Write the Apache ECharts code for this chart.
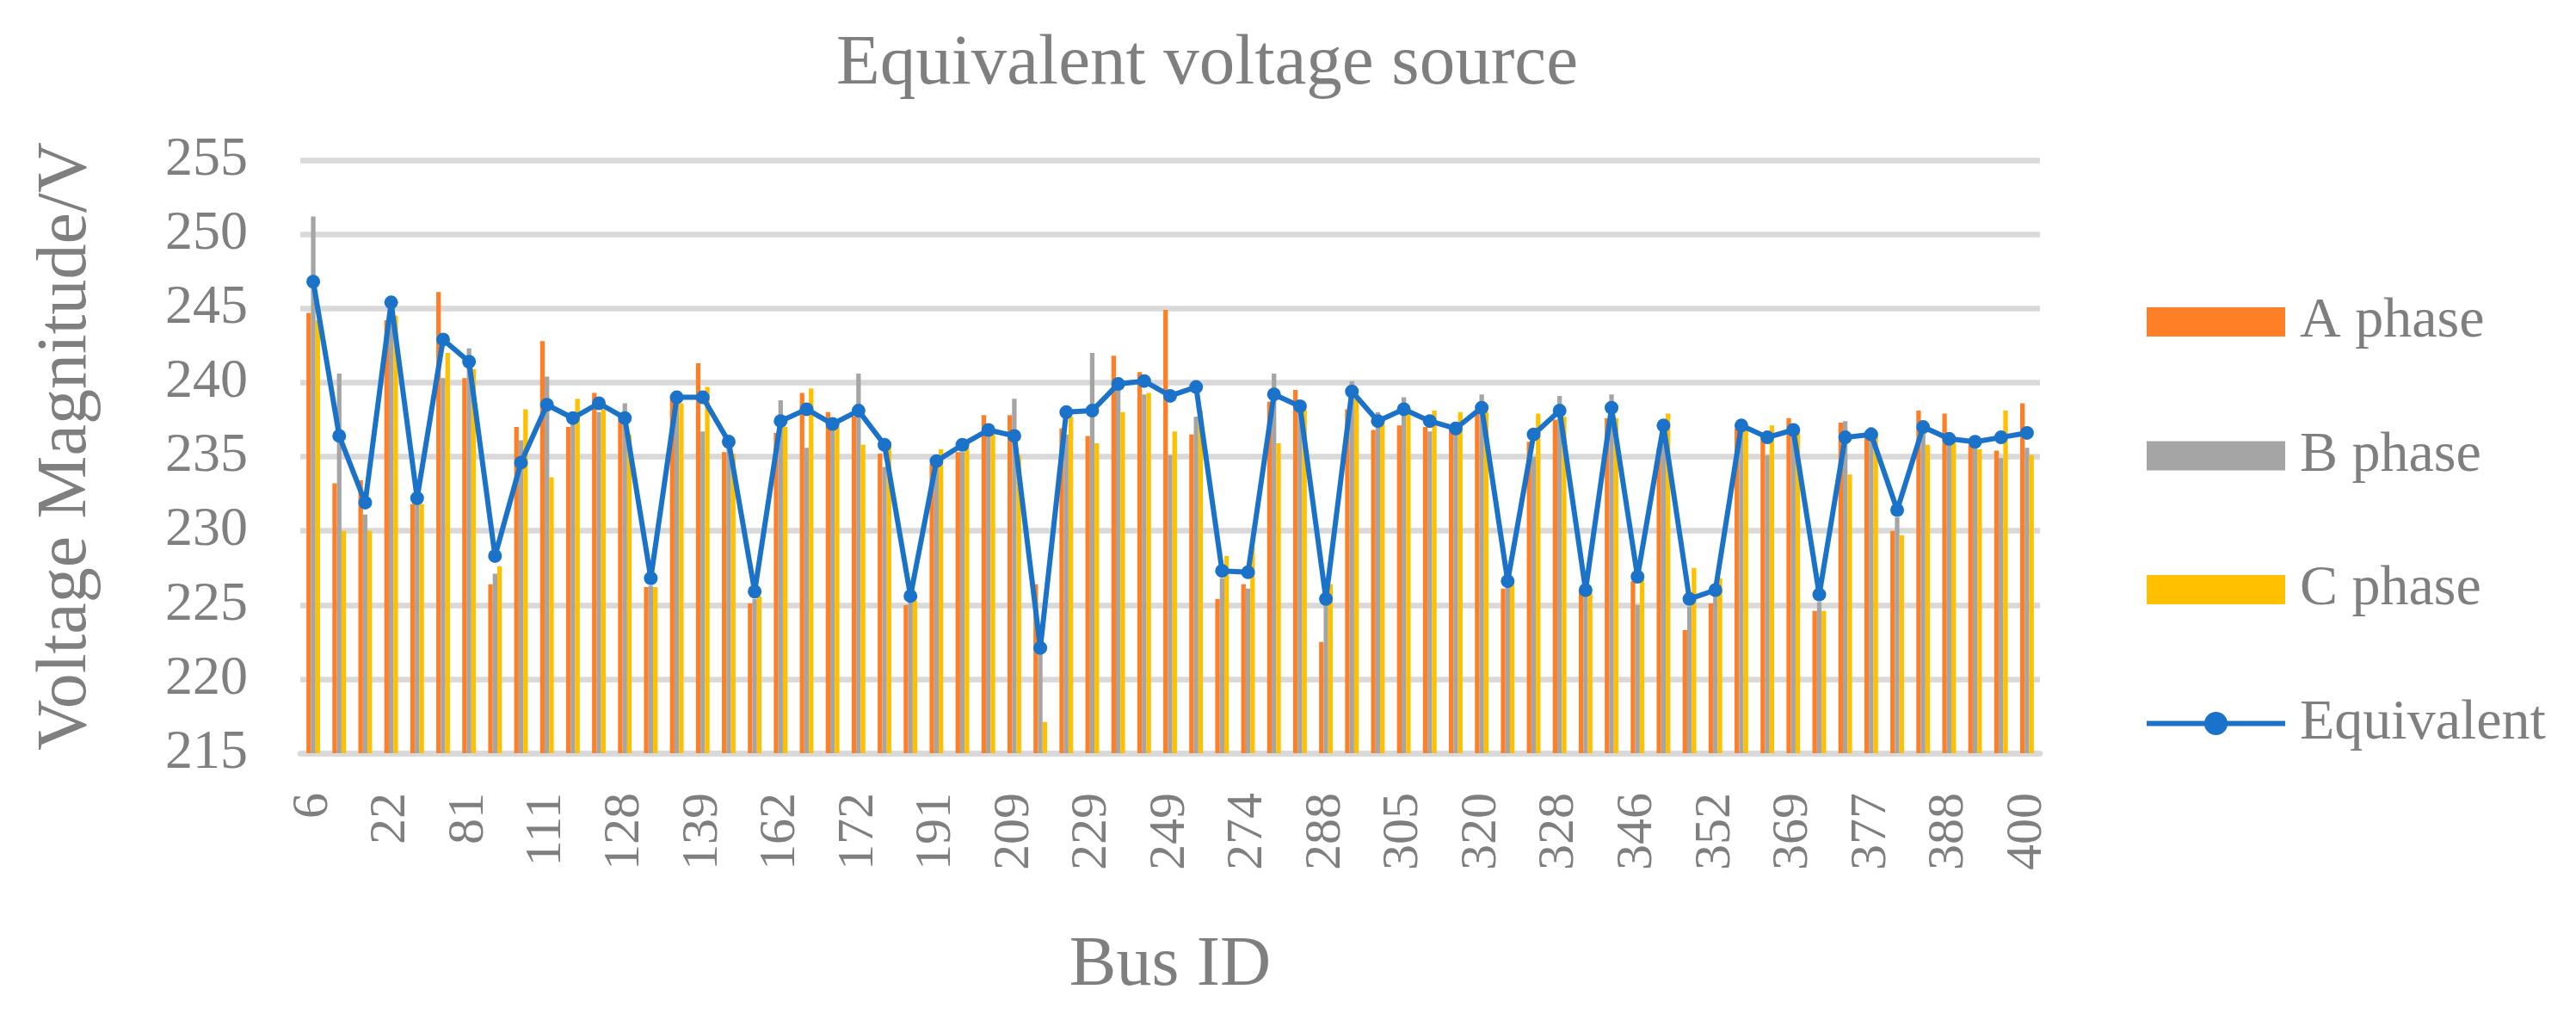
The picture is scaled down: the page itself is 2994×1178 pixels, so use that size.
<!DOCTYPE html>
<html>
<head>
<meta charset="utf-8">
<script src="https://cdn.jsdelivr.net/npm/echarts@6.0.0/dist/echarts.min.js"></script>
<style>
html,body{margin:0;padding:0;background:#fff;}
#chart{width:2994px;height:1178px;}
</style>
</head>
<body>
<div id="chart"></div>
<script>
// Bus IDs (every third one is labelled on the axis)
const busIds = ['6','12','17','22','35','60','81','94','104','111','117','122','128','132','136','139','147','155',
  '162','166','169','172','178','185','191','197','203','209','215','222','229','236','243','249','257','266',
  '274','279','284','288','294','300','305','310','315','320','323','325','328','334','340','346','348','350',
  '352','358','364','369','372','375','377','381','385','388','392','396','400'];

const phaseA = [244.7,233.2,233.4,244.2,231.8,246.1,240.3,226.4,237.0,242.8,237.0,239.3,237.5,226.2,239.0,241.3,235.3,
  225.1,236.6,239.3,238.0,237.7,235.2,225.0,234.5,235.3,237.8,237.8,226.4,236.9,236.4,241.8,240.7,244.9,
  236.5,225.4,226.4,238.7,239.5,222.5,238.2,236.8,237.1,237.0,236.9,238.0,226.1,236.0,237.5,226.0,237.6,226.6,
  235.6,223.3,225.1,236.9,236.5,237.6,224.6,237.3,236.5,230.0,238.1,237.9,235.8,235.4,238.6];

const phaseB = [251.2,240.6,231.1,244.0,232.2,240.3,242.3,227.1,236.1,240.4,237.3,238.0,238.6,226.3,238.8,236.7,236.5,
  225.4,238.8,235.6,237.0,240.6,234.3,225.3,234.6,235.3,236.5,238.9,222.3,236.5,242.0,239.5,239.2,235.1,
  237.7,226.8,226.1,240.6,238.3,225.3,240.1,238.0,239.0,236.7,236.9,239.2,226.3,235.0,239.1,225.8,239.2,225.0,
  236.7,224.9,225.6,236.9,235.1,236.6,225.2,237.4,237.0,230.9,236.6,236.0,235.8,234.9,235.6];

const phaseC = [244.2,230.0,230.0,244.5,231.8,242.0,240.9,227.6,238.2,233.6,238.9,238.2,236.5,226.2,238.6,239.7,235.2,
  225.6,237.0,239.6,237.0,235.8,236.0,225.3,235.5,235.6,236.6,235.1,217.1,237.7,235.9,238.0,239.3,236.7,
  238.1,228.3,228.9,235.9,238.2,226.4,238.9,237.4,238.1,238.1,238.0,238.0,226.5,237.9,237.7,225.8,237.6,227.1,
  237.9,227.5,226.8,237.0,237.1,236.6,224.6,233.8,236.5,229.7,235.8,236.1,235.5,238.1,235.1];

const equivalent = [246.8,236.4,231.9,245.4,232.2,242.9,241.4,228.3,234.6,238.5,237.6,238.6,237.6,226.8,239.0,239.0,236.0,
  225.9,237.4,238.2,237.2,238.1,235.8,225.6,234.7,235.8,236.8,236.4,222.1,238.0,238.1,239.9,240.1,239.1,
  239.7,227.3,227.2,239.2,238.4,225.4,239.4,237.4,238.2,237.4,236.9,238.3,226.6,236.5,238.1,226.0,238.3,226.9,
  237.1,225.4,226.0,237.1,236.3,236.8,225.7,236.3,236.5,231.4,237.0,236.2,236.0,236.3,236.6];

const yTicks = {min: 215, max: 255, interval: 5};

const FONT = 'Liberation Serif';
const TXT = '#7f7f7f';
const GRID = '#d9d9d9';
const BLUE = '#1A73C8';

const chart = echarts.init(document.getElementById('chart'), null, {renderer: 'canvas'});

function barSeries(name, data, color) {
  return {
    name: name, type: 'bar', data: data,
    barWidth: '17.5%', barGap: '0%',
    itemStyle: {color: color},
    z: 2
  };
}

chart.setOption({
  animation: false,
  backgroundColor: '#ffffff',
  title: {
    text: 'Equivalent voltage source',
    left: 1403, top: 34, textAlign: 'center', padding: 0,
    textStyle: {fontFamily: FONT, fontSize: 83, fontWeight: 'normal', color: TXT, lineHeight: 83}
  },
  grid: {left: 349, right: 623, top: 186, bottom: 303, containLabel: false},
  legend: {
    orient: 'vertical', left: 2492, top: 341, padding: 0,
    itemWidth: 161, itemHeight: 34, itemGap: 89.5,
    textStyle: {fontFamily: FONT, fontSize: 66, color: TXT, lineHeight: 66, padding: [0, 0, 0, 12]},
    data: [
      {name: 'A phase', icon: 'rect'},
      {name: 'B phase', icon: 'rect'},
      {name: 'C phase', icon: 'rect'},
      {name: 'Equivalent', lineStyle: {width: 6, color: BLUE}}
    ]
  },
  xAxis: {
    type: 'category', data: busIds,
    name: 'Bus ID', nameLocation: 'middle', nameGap: 206,
    nameTextStyle: {fontFamily: FONT, fontSize: 82, color: TXT, lineHeight: 82},
    axisLine: {show: true, lineStyle: {color: GRID, width: 6.5}},
    axisTick: {show: false},
    axisLabel: {interval: 2, rotate: 90, margin: 46, fontFamily: FONT, fontSize: 60, color: TXT}
  },
  yAxis: {
    type: 'value', min: yTicks.min, max: yTicks.max, interval: yTicks.interval,
    name: 'Voltage Magnitude/V', nameLocation: 'middle', nameGap: 231,
    nameTextStyle: {fontFamily: FONT, fontSize: 82, color: TXT, lineHeight: 82, padding: [0, 0, 0, 24]},
    axisLine: {show: false}, axisTick: {show: false},
    axisLabel: {margin: 61, fontFamily: FONT, fontSize: 64, color: TXT},
    splitLine: {show: true, lineStyle: {color: GRID, width: 6.5}}
  },
  series: [
    barSeries('A phase', phaseA, '#FF7F27'),
    barSeries('B phase', phaseB, '#A5A5A5'),
    barSeries('C phase', phaseC, '#FFC000'),
    {
      name: 'Equivalent', type: 'line', data: equivalent,
      symbol: 'circle', symbolSize: 16,
      lineStyle: {color: BLUE, width: 6},
      itemStyle: {color: BLUE},
      z: 5
    }
  ]
});
</script>
</body>
</html>
